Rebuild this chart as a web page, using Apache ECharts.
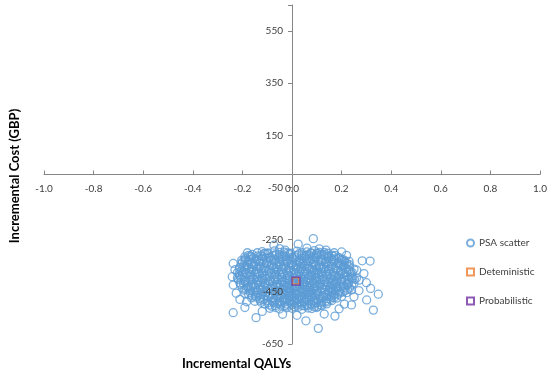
<!DOCTYPE html>
<html><head><meta charset="utf-8">
<script src="https://cdn.jsdelivr.net/npm/echarts@6/dist/echarts.min.js"></script>
<style>html,body{margin:0;padding:0;background:#fff}#c{width:550px;height:375px}</style>
</head><body><div id="c"></div>
<script>
const seriesNames = ['PSA scatter', 'Deteministic', 'Probabilistic'];
const xAxisTitle = 'Incremental QALYs';
const yAxisTitle = 'Incremental Cost (GBP)';
const deterministicPoint = [[0.015, -408]];
const probabilisticPoint = [[0.016, -409]];
const psaCore = [
[-0.12,-296],[-0.07,-293],[-0.03,-298],[0.02,-294],[0.06,-297],[0.09,-292],[0.13,-299],
[-0.16,-306],[-0.10,-303],[-0.05,-307],[-0.01,-304],[0.04,-308],[0.08,-302],[0.12,-306],[0.16,-309],
[-0.19,-316],[-0.14,-313],[-0.09,-317],[-0.04,-314],[0.00,-318],[0.05,-312],[0.10,-316],[0.15,-314],[0.19,-319],
[-0.17,-326],[-0.12,-323],[-0.07,-327],[-0.02,-324],[0.03,-328],[0.07,-322],[0.12,-326],[0.17,-324],[0.21,-328],
[-0.20,-336],[-0.15,-333],[-0.10,-337],[-0.05,-334],[0.00,-338],[0.05,-332],[0.09,-336],[0.14,-334],[0.19,-338],[0.23,-333],
[-0.18,-346],[-0.13,-343],[-0.08,-347],[-0.03,-344],[0.02,-348],[0.06,-342],[0.11,-346],[0.16,-344],[0.21,-347],
[-0.21,-356],[-0.16,-353],[-0.11,-357],[-0.06,-354],[-0.01,-358],[0.04,-352],[0.08,-356],[0.13,-354],[0.18,-358],[0.23,-353],
[-0.19,-366],[-0.14,-363],[-0.09,-367],[-0.04,-364],[0.01,-368],[0.06,-362],[0.10,-366],[0.15,-364],[0.20,-368],[0.25,-363],
[-0.22,-376],[-0.17,-373],[-0.12,-377],[-0.07,-374],[-0.02,-378],[0.03,-372],[0.08,-376],[0.12,-374],[0.17,-378],[0.22,-373],
[-0.20,-386],[-0.15,-383],[-0.10,-387],[-0.05,-384],[0.00,-388],[0.05,-382],[0.09,-386],[0.14,-384],[0.19,-388],[0.24,-383],
[-0.22,-396],[-0.17,-393],[-0.12,-397],[-0.07,-394],[-0.02,-398],[0.02,-392],[0.07,-396],[0.11,-394],[0.16,-398],[0.21,-393],[0.26,-397],
[-0.19,-406],[-0.14,-403],[-0.09,-407],[-0.04,-404],[0.00,-408],[0.04,-402],[0.09,-406],[0.13,-404],[0.18,-408],[0.23,-403],
[-0.21,-416],[-0.16,-413],[-0.11,-417],[-0.06,-414],[-0.02,-418],[0.03,-412],[0.07,-416],[0.11,-414],[0.16,-418],[0.20,-413],[0.25,-417],
[-0.18,-426],[-0.13,-423],[-0.08,-427],[-0.03,-424],[0.01,-428],[0.05,-422],[0.09,-426],[0.14,-424],[0.18,-428],[0.22,-423],
[-0.20,-436],[-0.15,-433],[-0.10,-437],[-0.05,-434],[-0.01,-438],[0.03,-432],[0.07,-436],[0.12,-434],[0.16,-438],[0.21,-433],
[-0.17,-446],[-0.12,-443],[-0.07,-447],[-0.02,-444],[0.02,-448],[0.06,-442],[0.10,-446],[0.15,-444],[0.19,-448],[0.24,-443],
[-0.19,-456],[-0.14,-453],[-0.09,-457],[-0.04,-454],[0.00,-458],[0.04,-452],[0.08,-456],[0.13,-454],[0.17,-458],[0.22,-453],
[-0.16,-466],[-0.11,-463],[-0.06,-467],[-0.01,-464],[0.03,-468],[0.07,-462],[0.11,-466],[0.16,-464],[0.20,-468],
[-0.13,-476],[-0.08,-473],[-0.03,-477],[0.01,-474],[0.05,-478],[0.09,-472],[0.14,-476],[0.18,-474],
[-0.15,-486],[-0.10,-483],[-0.05,-487],[-0.01,-484],[0.03,-488],[0.07,-482],[0.12,-486],[0.16,-484],
[-0.11,-496],[-0.06,-493],[-0.02,-497],[0.02,-494],[0.06,-498],[0.10,-492],[0.14,-496],
[-0.08,-506],[-0.03,-503],[0.01,-507],[0.05,-504],[0.09,-508],[0.12,-502],
[-0.05,-516],[0.00,-513],[0.04,-517],[0.08,-514]
];
const psaCoreMid = [
[-0.14,-300],[-0.095,-301],[-0.05,-299],[-0.005,-302],[0.04,-300],[0.075,-301],[0.11,-299],[0.145,-302],
[-0.175,-310],[-0.125,-311],[-0.07,-309],[-0.025,-312],[0.02,-310],[0.06,-311],[0.10,-309],[0.14,-312],[0.175,-310],
[-0.155,-320],[-0.105,-321],[-0.055,-319],[0.005,-322],[0.05,-320],[0.095,-321],[0.145,-319],[0.19,-322],
[-0.19,-330],[-0.135,-331],[-0.085,-329],[-0.035,-332],[0.015,-330],[0.06,-331],[0.105,-329],[0.155,-332],[0.20,-330],
[-0.165,-340],[-0.115,-341],[-0.065,-339],[-0.015,-342],[0.035,-340],[0.085,-341],[0.135,-339],[0.185,-342],[0.22,-340],
[-0.195,-350],[-0.145,-351],[-0.095,-349],[-0.045,-352],[0.005,-350],[0.05,-351],[0.095,-349],[0.145,-352],[0.195,-350],
[-0.175,-360],[-0.125,-361],[-0.075,-359],[-0.025,-362],[0.025,-360],[0.07,-361],[0.115,-359],[0.165,-362],[0.215,-360],
[-0.205,-370],[-0.155,-371],[-0.105,-369],[-0.055,-372],[-0.005,-370],[0.045,-371],[0.09,-369],[0.135,-372],[0.185,-370],[0.235,-371],
[-0.185,-380],[-0.135,-381],[-0.085,-379],[-0.035,-382],[0.015,-380],[0.065,-381],[0.105,-379],[0.155,-382],[0.205,-380],
[-0.21,-390],[-0.16,-391],[-0.11,-389],[-0.06,-392],[-0.01,-390],[0.035,-391],[0.08,-389],[0.125,-392],[0.175,-390],[0.225,-391],
[-0.205,-400],[-0.155,-401],[-0.105,-399],[-0.055,-402],[-0.02,-400],[0.025,-401],[0.065,-399],[0.11,-402],[0.155,-400],[0.20,-401],[0.245,-399],
[-0.175,-410],[-0.125,-411],[-0.075,-409],[-0.03,-412],[0.015,-410],[0.055,-411],[0.10,-409],[0.145,-412],[0.195,-410],
[-0.195,-420],[-0.145,-421],[-0.095,-419],[-0.045,-422],[0.005,-420],[0.045,-421],[0.09,-419],[0.125,-422],[0.175,-420],[0.225,-421],
[-0.165,-430],[-0.115,-431],[-0.065,-429],[-0.02,-432],[0.02,-430],[0.06,-431],[0.10,-429],[0.155,-432],[0.195,-430],
[-0.185,-440],[-0.135,-441],[-0.085,-439],[-0.035,-442],[0.005,-440],[0.045,-441],[0.085,-439],[0.135,-442],[0.175,-440],[0.225,-441],
[-0.155,-450],[-0.105,-451],[-0.055,-449],[-0.01,-452],[0.03,-450],[0.07,-451],[0.115,-449],[0.16,-452],[0.205,-450],
[-0.175,-460],[-0.125,-461],[-0.075,-459],[-0.025,-462],[0.015,-460],[0.055,-461],[0.095,-459],[0.145,-462],[0.185,-460],
[-0.145,-470],[-0.095,-471],[-0.045,-469],[0.00,-472],[0.04,-470],[0.08,-471],[0.125,-469],[0.17,-472],
[-0.115,-480],[-0.065,-481],[-0.02,-479],[0.02,-482],[0.06,-480],[0.105,-481],[0.155,-479],
[-0.125,-490],[-0.075,-491],[-0.03,-489],[0.01,-492],[0.05,-490],[0.095,-491],[0.14,-489],
[-0.09,-500],[-0.045,-501],[0.00,-499],[0.04,-502],[0.08,-500],[0.115,-501],
[-0.065,-510],[-0.02,-511],[0.025,-509],[0.065,-512],[0.10,-510]
];
const psaCoreFill = [
[-0.108,-303],[-0.062,-305],[-0.018,-301],[0.028,-304],[0.068,-306],[0.102,-302],[0.131,-305],
[-0.168,-313],[-0.118,-315],[-0.078,-311],[-0.032,-314],[0.012,-316],[0.058,-312],[0.087,-315],[0.128,-311],[0.168,-314],
[-0.188,-323],[-0.142,-325],[-0.093,-321],[-0.047,-324],[-0.008,-326],[0.038,-322],[0.083,-325],[0.118,-321],[0.161,-324],[0.203,-326],
[-0.178,-333],[-0.128,-335],[-0.073,-331],[-0.022,-334],[0.028,-336],[0.072,-332],[0.118,-335],[0.167,-331],[0.212,-334],
[-0.203,-343],[-0.153,-345],[-0.103,-341],[-0.052,-344],[-0.003,-346],[0.043,-342],[0.094,-345],[0.148,-341],[0.197,-344],[0.232,-346],
[-0.187,-353],[-0.132,-355],[-0.082,-351],[-0.033,-354],[0.017,-356],[0.062,-352],[0.108,-355],[0.157,-351],[0.207,-354],
[-0.212,-363],[-0.163,-365],[-0.112,-361],[-0.063,-364],[-0.013,-366],[0.036,-362],[0.083,-365],[0.127,-361],[0.178,-364],[0.228,-366],
[-0.196,-373],[-0.143,-375],[-0.093,-371],[-0.043,-374],[0.008,-376],[0.054,-372],[0.097,-375],[0.147,-371],[0.196,-374],[0.243,-376],
[-0.213,-383],[-0.168,-385],[-0.118,-381],[-0.068,-384],[-0.018,-386],[0.027,-382],[0.073,-385],[0.118,-381],[0.166,-384],[0.216,-386],
[-0.193,-393],[-0.142,-395],[-0.092,-391],[-0.042,-394],[0.008,-396],[0.052,-392],[0.098,-395],[0.142,-391],[0.188,-394],[0.238,-396],
[-0.217,-403],[-0.166,-405],[-0.118,-401],[-0.067,-404],[-0.012,-406],[0.034,-402],[0.078,-405],[0.122,-401],[0.168,-404],[0.213,-406],[0.252,-402],
[-0.188,-413],[-0.138,-415],[-0.088,-411],[-0.038,-414],[0.008,-416],[0.047,-412],[0.086,-415],[0.132,-411],[0.178,-414],[0.228,-416],
[-0.207,-423],[-0.157,-425],[-0.108,-421],[-0.058,-424],[-0.012,-426],[0.032,-422],[0.072,-425],[0.113,-421],[0.162,-424],[0.208,-426],
[-0.178,-433],[-0.128,-435],[-0.078,-431],[-0.032,-434],[0.012,-436],[0.052,-432],[0.092,-435],[0.137,-431],[0.183,-434],[0.232,-436],
[-0.193,-443],[-0.143,-445],[-0.093,-441],[-0.046,-444],[-0.004,-446],[0.038,-442],[0.078,-445],[0.123,-441],[0.168,-444],[0.213,-446],
[-0.168,-453],[-0.118,-455],[-0.068,-451],[-0.018,-454],[0.022,-456],[0.062,-452],[0.103,-455],[0.148,-451],[0.193,-454],
[-0.148,-463],[-0.098,-465],[-0.048,-461],[-0.006,-464],[0.036,-466],[0.078,-462],[0.121,-465],[0.168,-461],
[-0.163,-473],[-0.112,-475],[-0.058,-471],[-0.012,-474],[0.028,-476],[0.067,-472],[0.112,-475],[0.158,-471],
[-0.128,-483],[-0.078,-485],[-0.036,-481],[0.008,-484],[0.048,-486],[0.088,-482],[0.136,-485],
[-0.098,-493],[-0.052,-495],[-0.008,-491],[0.034,-494],[0.076,-496],[0.118,-492],
[-0.068,-503],[-0.022,-505],[0.022,-501],[0.062,-504],[0.104,-506]
];
const psaOuter = [
[0.086,-246],[-0.073,-271],[0.025,-267],[-0.237,-341],[-0.241,-392],[-0.237,-424],[-0.237,-530],
[-0.21,-479],[-0.145,-549],[0.106,-590],[0.056,-561],[0.173,-543],[0.328,-520],[0.348,-459],
[0.317,-437],[0.315,-332],[0.283,-331],[0.20,-297],[0.137,-290],[0.301,-481],[0.25,-469],
[0.211,-497],[-0.038,-536],[-0.089,-513],[-0.183,-488],[-0.163,-316],[-0.203,-329],[-0.112,-303],
[-0.028,-290],[0.10,-303],[0.261,-367],[0.271,-405],[0.241,-424],[0.06,-282],[0.11,-285],
[-0.05,-284],[0.17,-300],[0.29,-380],[0.30,-415],[0.27,-445],[-0.23,-365],[-0.225,-455],
[-0.19,-510],[-0.12,-525],[0.02,-540],[0.13,-535],[0.19,-515],[0.24,-500],[-0.18,-300],[0.22,-310]
];
const psaPoints = psaCore.concat(psaCoreMid, psaCoreFill, psaOuter);

const axisGray = '#868686';
const textGray = '#404040';
const fontFam = 'Lato, "Open Sans", sans-serif';
const yLabelFmt = v => (v === 650 ? '' : String(v));

const chart = echarts.init(document.getElementById('c'), null, {renderer: 'canvas'});
chart.setOption({
  animation: false,
  backgroundColor: '#fff',
  grid: {left: 44, right: 10, top: 5, bottom: 31, containLabel: false},
  xAxis: {
    type: 'value', min: -1, max: 1, interval: 0.2, position: 'bottom', offset: -169.5,
    axisLine: {onZero: false, lineStyle: {color: axisGray, width: 1}},
    axisTick: {inside: true, length: 4, lineStyle: {color: axisGray}},
    axisLabel: {color: textGray, fontSize: 10, fontFamily: fontFam, margin: 9,
      formatter: v => v.toFixed(1)},
    splitLine: {show: false}
  },
  yAxis: [{
    type: 'value', min: -650, max: 650, interval: 200, position: 'left', offset: -248,
    axisLine: {onZero: false, lineStyle: {color: axisGray, width: 1}},
    axisTick: {inside: false, length: 4, lineStyle: {color: axisGray}},
    axisLabel: {show: false},
    splitLine: {show: false}
  }, {
    type: 'value', min: -650, max: 650, interval: 200, position: 'left', offset: -248, z: 4,
    axisLine: {show: false, onZero: false},
    axisTick: {show: false},
    axisLabel: {color: textGray, fontSize: 10, fontFamily: fontFam, margin: 9, showMaxLabel: false,
      formatter: yLabelFmt},
    splitLine: {show: false}
  }],
  legend: {
    orient: 'vertical', left: 461, top: 233, itemGap: 19,
    itemWidth: 7, itemHeight: 7,
    textStyle: {color: textGray, fontSize: 10, fontFamily: fontFam},
    data: [
      {name: seriesNames[0], icon: 'circle'},
      {name: seriesNames[1], icon: 'rect'},
      {name: seriesNames[2], icon: 'rect'}
    ]
  },
  graphic: [
    {type: 'text', left: 182, top: 357,
      style: {text: xAxisTitle, font: 'bold 13px ' + fontFam, fill: '#000'}},
    {type: 'text', x: 8, y: 176, rotation: Math.PI / 2,
      style: {text: yAxisTitle, font: 'bold 13px ' + fontFam, fill: '#000', align: 'center', verticalAlign: 'top'}}
  ],
  series: [
    {name: seriesNames[0], type: 'scatter', data: psaPoints, symbol: 'circle', symbolSize: 8, large: false,
      itemStyle: {color: 'rgba(0,0,0,0)', borderColor: '#5B9BD5', borderWidth: 1.3}},
    {name: seriesNames[1], type: 'scatter', data: deterministicPoint, symbol: 'rect', symbolSize: 6, z: 5,
      itemStyle: {color: 'rgba(0,0,0,0)', borderColor: '#ED7D31', borderWidth: 1.3}},
    {name: seriesNames[2], type: 'scatter', data: probabilisticPoint, symbol: 'rect', symbolSize: 8, z: 6,
      itemStyle: {color: 'rgba(0,0,0,0)', borderColor: '#7030A0', borderWidth: 1.3}}
  ]
});
</script></body></html>
